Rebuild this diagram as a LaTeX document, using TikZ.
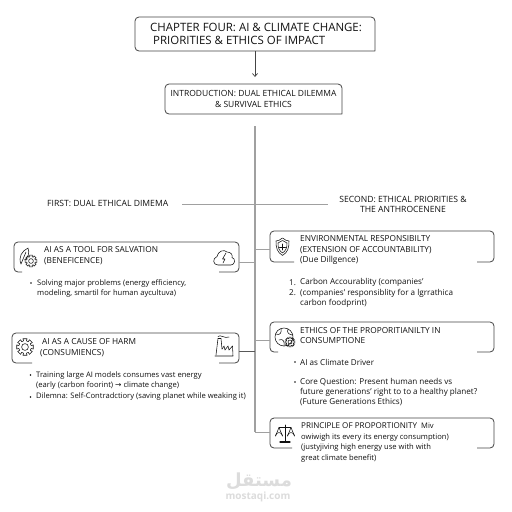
\documentclass[tikz,border=0pt]{standalone}
\usepackage{fontspec}
\usetikzlibrary{calc,arrows.meta}
\setmainfont{Open Sans}
\newfontfamily\dvfont{DejaVu Sans}
\newfontfamily\arabicfont[Script=Arabic]{DejaVu Sans}
\TeXXeTstate=1
\definecolor{ink}{HTML}{111111}
\definecolor{spinegray}{HTML}{A0A0A0}
\definecolor{edgegray}{HTML}{444444}
\definecolor{marktext}{HTML}{DCDCDC}
\tikzset{
  boxline/.style={draw=edgegray,line width=0.8pt,rounded corners=4pt},
  frame/.style={inner sep=0pt,outer sep=0pt},
  spine/.style={draw=spinegray,line width=1.1pt},
  link/.style={draw=ink!70,line width=0.8pt},
  heading/.style={anchor=west,inner sep=0pt,align=left,text=ink,font=\fontsize{8.3}{10.8}\selectfont},
  body/.style={anchor=west,inner sep=0pt,align=left,text=ink,font=\fontsize{7.6}{10.8}\selectfont},
  bodywide/.style={anchor=west,inner sep=0pt,align=left,text=ink,font=\fontsize{8.1}{10.4}\selectfont},
  dotmark/.style={circle,fill=ink,inner sep=0pt,minimum size=1.9pt},
  icon/.style={draw=ink,line width=0.55pt,line join=round,line cap=round},
}
% name, x1, y1, x2, y2, left stub, right stub
\newcommand{\gapbox}[7]{%
  \node[frame,minimum width={(#4-#2)*1pt},minimum height={(#5-#3)*1pt}] (#1) at ({(#2+#4)/2},{(#3+#5)/2}) {};
  \draw[boxline] ($(#1.south west)+(#6,0)$) -- (#1.south west) -- (#1.north west) -- (#1.north east) -- (#1.south east) -- ($(#1.south east)+(-#7,0)$);
}
\newcommand{\cog}[3]{% x y r
  \begin{scope}[shift={(#1,#2)}]
    \draw[icon] (-14:{#3}) \foreach \a in {0,45,...,315} { -- ({\a-14}:{#3}) -- ({\a+14}:{#3}) -- ({\a+22.5-9}:{#3*0.74}) -- ({\a+22.5+9}:{#3*0.74}) } -- cycle;
    \draw[icon] (0,0) circle ({#3*0.4});
  \end{scope}}
\begin{document}
\begin{tikzpicture}[x=1pt,y=-1pt]
\useasboundingbox (0,0) rectangle (512,512);
\fill[white] (0,0) rectangle (512,512);
% watermark
\node[inner sep=0pt,text=marktext,font=\arabicfont\bfseries\fontsize{18}{18}\selectfont] (markar) at (259,481) {\beginR مستقل\endR};
\node[inner sep=0pt,text=marktext,font=\bfseries\fontsize{10}{10}\selectfont] (markla) at (258,497) {mostaqi.com};
% top boxes
\gapbox{titlebox}{135}{17}{375}{51}{240}{0}
\gapbox{introbox}{165}{84}{342}{114}{177}{0}
\node[anchor=west,inner sep=0pt,align=left,text=ink,font=\fontsize{11.45}{13}\selectfont] (titletext) at (150,34) {CHAPTER FOUR: AI \& CLIMATE CHANGE:\\\hspace*{3pt}PRIORITIES \& ETHICS OF IMPACT};
\node[inner sep=0pt,align=center,text=ink,font=\fontsize{8.5}{10.5}\selectfont] (introtext) at (253.5,99) {INTRODUCTION: DUAL ETHICAL DILEMMA\\\& SURVIVAL ETHICS};
\coordinate (arrowend) at (255,77);
\draw[draw=edgegray,line width=0.7pt,-{Straight Barb[length=3pt,width=5pt]}] (titlebox.south -| arrowend) -- (arrowend);
% spine
\coordinate (spinetop) at (255,126);
\coordinate (spinebot) at (255,432);
\draw[spine] (spinetop) -- (spinebot);
\coordinate (crossl) at (182,204);
\coordinate (crossr) at (328,204);
\draw[spine,line width=0.9pt] (crossl) -- (crossr);
\node[heading,font=\fontsize{8.6}{10}\selectfont] (firstlab) at (47,203.5) {FIRST: DUAL ETHICAL DIMEMA};
\node[inner sep=0pt,align=center,text=ink,font=\fontsize{8.6}{10.6}\selectfont] (secondlab) at (403,204.5) {SECOND: ETHICAL PRIORITIES \&\\THE ANTHROCENENE};
% boxes
\gapbox{leftone}{14}{242}{239}{272}{8}{20}
\gapbox{lefttwo}{12}{333}{239}{363}{20}{20}
\gapbox{rightone}{270}{231}{494}{262}{24}{17}
\gapbox{righttwo}{270}{322}{494}{352}{8}{17}
\gapbox{rightthree}{270}{418}{494}{448}{22}{17}
% connectors
\coordinate (lonea) at (239,262); \coordinate (loneb) at (255,262);
\coordinate (ltwoa) at (239,351); \coordinate (ltwob) at (255,351);
\coordinate (ronea) at (270,249); \coordinate (roneb) at (255,249);
\coordinate (rtwoa) at (270,340); \coordinate (rtwob) at (255,340);
\coordinate (rthra) at (270,432); \coordinate (rthrb) at (255,432);
\draw[link,draw=spinegray] (lonea) -- (loneb);
\draw[link] (ltwoa) -- (ltwob);
\draw[link,draw=spinegray] (ronea) -- (roneb);
\draw[link,draw=spinegray] (rtwoa) -- (rtwob);
\draw[link,draw=spinegray] (rthra) -- (rthrb);
% left text
\node[heading] (lonehead) at (44,256) {AI AS A TOOL FOR SALVATION\\(BENEFICENCE)};
\node[body] (lonebul) at (37,288.5) {Solving major problems (energy efficiency,\\modeling, smartil for human aycultuva)};
\node[dotmark] (lonedot) at (31,283) {};
\node[heading] (ltwohead) at (40,347.5) {\hspace*{2pt}AI AS A CAUSE OF HARM\\(CONSUMIENCS)};
\node[body] (ltwobul) at (36,386) {Training large AI models consumes vast energy\\(early (carbon foorint) {\dvfont →} climate change)\\Dilemna: Self-Contradctiory (saving planet while weaking it)};
\node[dotmark] (ltwodota) at (30.5,375) {};
\node[dotmark] (ltwodotb) at (30.5,397) {};
% right text
\node[heading] (ronehead) at (300,250) {ENVIRONMENTAL RESPONSIBILTY\\(EXTENSION OF ACCOUNTABILITY)\\(Due Dillgence)};
\node[bodywide] (rlistn) at (289,287.5) {1.\\2.};
\node[bodywide] (rlist) at (300,293) {Carbon Accourablity (companies'\\(companies' responsiblity for a lgrrathica\\carbon foodprint)};
\node[heading] (rtwohead) at (300,335.5) {ETHICS OF THE PROPORITIANILTY IN\\CONSUMPTIONE};
\node[dotmark] (rtwodota) at (295,362) {};
\node[bodywide] (rtwoa) at (300,362) {AI as Climate Driver};
\node[dotmark] (rtwodotb) at (295,382) {};
\node[bodywide] (rtwob) at (300,392) {Core Question: Present human needs vs\\future generations' right to to a healthy planet?\\(Future Generations Ethics)};
\node[body] (rthrhead) at (301,442.5) {{\fontsize{8.05}{10}\selectfont PRINCIPLE OF PROPORTIONITY}\ \ Miv\\owiwigh its every its energy consumption)\\(justyjiving high energy use with with\\great climate benefit)};
% icons
% leaf + gear
\draw[icon] (21,264) .. controls (18,257) and (22,251) .. (28,248) .. controls (30,253) and (28,258) .. (24.5,260) (21,264) -- (26,252);
\cog{31}{261}{6}
% cloud + bolt
\draw[icon] (218,265) .. controls (213,265) and (212,258.5) .. (217,256.5) .. controls (218,251) and (224,249) .. (227,252) .. controls (231,252) and (233,255) .. (232,257.5) .. controls (236,258.5) and (235,265) .. (231,265) -- cycle;
\draw[icon] (226,253) -- (222.5,259) -- (225,259) -- (223,263);
% gear
\cog{25}{347}{8.5}
% factory
\draw[icon] (216,355) -- (218,338.5) -- (221,338.5) -- (222,349);
\draw[icon] (215,356) -- (233,356) -- (232.5,346) -- (229,350) -- (228,346) -- (225,350) -- (224,346) -- (222,349);
\draw[icon] (218,336.5) .. controls (220,334) and (225,339) .. (229,337);
% shield
\draw[icon] (282.5,238) .. controls (280,240) and (278,241) .. (276,241) .. controls (276,248) and (277,252) .. (282.5,255.5) .. controls (288,252) and (289,248) .. (289,241) .. controls (287,241) and (285,240) .. (282.5,238) -- cycle;
\draw[icon] (282.5,240.5) .. controls (281,242) and (280,242.5) .. (278,243) .. controls (278,248) and (279,250.5) .. (282.5,253) .. controls (286,250.5) and (287,248) .. (287,243) .. controls (285,242.5) and (284,242) .. (282.5,240.5);
\draw[icon] (282.5,244) -- (282.5,250) (279.5,247) -- (285.5,247);
% globe
\draw[icon] (284,337) circle (9);
\draw[icon] (276,334) .. controls (280,336) and (282,332) .. (281,329) (279,340) .. controls (283,338) and (285,342) .. (284,346) (288,329) .. controls (286,333) and (290,335) .. (293,335);
\cog{290}{342}{5}
% scales
\draw[icon] (285,425) -- (285,441) (279,427.5) -- (291,427.5);
\draw[icon,line width=1.2pt] (280,442) -- (290,442);
\draw[icon] (279,427.5) -- (275.5,436) (279,427.5) -- (282.5,436) (291,427.5) -- (287.5,436) (291,427.5) -- (294.5,436);
\draw[icon] (275.5,436) arc[start angle=180,end angle=360,radius=3.5];
\draw[icon] (287.5,436) arc[start angle=180,end angle=360,radius=3.5];
\end{tikzpicture}
\end{document}
